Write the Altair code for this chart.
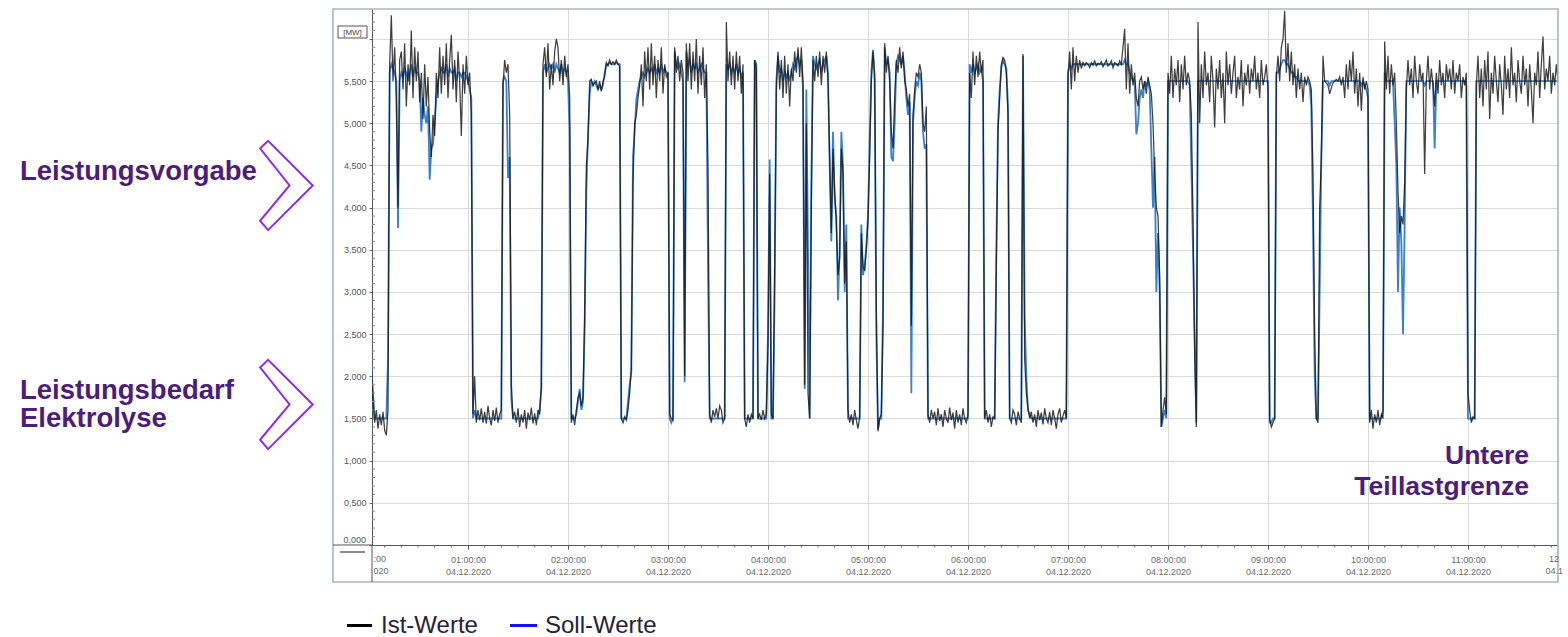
import altair as alt
import pandas as pd

# ---- data: one value per minute from 00:00 (04.12.2020) ----
SOLL = [
    2.1, 2.1, 2.1, 1.8, 1.5, 1.5, 1.5, 1.5, 1.5, 1.5,
    1.5, 1.5, 2.2, 5.6, 5.7, 5.65, 5.6, 5.5, 3.76, 5.5,
    5.6, 5.55, 5.65, 5.6, 5.5, 5.6, 5.7, 5.55, 5.65, 5.6,
    5.6, 5.5, 4.9, 5.3, 5.1, 5.0, 5.2, 4.33, 4.7, 4.75,
    5.0, 5.3, 5.5, 5.6, 5.65, 5.6, 5.6, 5.7, 5.55, 5.65,
    5.6, 5.6, 5.65, 5.5, 5.6, 5.6, 5.55, 5.6, 5.6, 5.55,
    5.5, 5.4, 5.3, 1.5, 1.6, 1.5, 1.5, 1.5, 1.5, 1.5,
    1.5, 1.5, 1.5, 1.5, 1.5, 1.5, 1.5, 1.5, 1.5, 1.5,
    1.5, 5.5, 5.55, 5.5, 4.35, 4.6, 1.74, 1.5, 1.5, 1.5,
    1.5, 1.5, 1.5, 1.5, 1.5, 1.5, 1.5, 1.5, 1.5, 1.5,
    1.5, 1.5, 1.5, 1.6, 1.85, 5.6, 5.7, 5.6, 5.65, 5.7,
    5.65, 5.7, 5.6, 5.7, 5.65, 5.6, 5.7, 5.6, 5.65, 5.6,
    5.5, 4.9, 1.5, 1.5, 1.5, 1.55, 1.7, 1.85, 1.6, 1.7,
    2.6, 4.2, 4.85, 5.35, 5.5, 5.45, 5.5, 5.45, 5.4, 5.45,
    5.4, 5.45, 5.6, 5.7, 5.7, 5.72, 5.7, 5.7, 5.7, 5.72,
    5.7, 5.7, 1.5, 1.5, 1.5, 1.5, 1.7, 1.9, 2.05, 4.6,
    4.9, 5.28, 5.4, 5.5, 5.55, 5.6, 5.55, 5.6, 5.65, 5.6,
    5.65, 5.6, 5.7, 5.6, 5.65, 5.6, 5.7, 5.6, 5.65, 5.6,
    5.6, 1.5, 1.45, 1.5, 5.85, 5.7, 5.65, 5.7, 5.6, 5.5,
    1.93, 5.85, 5.7, 5.75, 5.6, 5.7, 5.65, 5.7, 5.6, 5.65,
    5.7, 5.65, 5.6, 5.6, 3.3, 1.5, 1.5, 1.5, 1.5, 1.5,
    1.5, 1.5, 1.5, 1.5, 1.5, 5.7, 5.65, 5.7, 5.6, 5.65,
    5.6, 5.7, 5.6, 5.65, 5.55, 5.6, 1.5, 1.5, 1.5, 1.5,
    1.5, 1.5, 5.75, 5.7, 1.5, 1.5, 1.5, 1.5, 1.5, 1.5,
    2.5, 4.57, 1.5, 1.5, 3.0, 5.5, 5.8, 5.6, 5.65, 5.5,
    5.6, 5.55, 5.6, 5.5, 5.6, 5.7, 5.65, 5.75, 5.8, 5.7,
    5.75, 5.4, 1.85, 5.4, 3.5, 1.5, 4.3, 5.8, 5.7, 5.65,
    5.7, 5.75, 5.6, 5.7, 5.75, 5.8, 5.6, 4.5, 3.6, 4.9,
    4.1, 3.9, 2.9, 3.5, 4.9, 4.5, 3.0, 3.8, 1.5, 1.5,
    1.5, 1.5, 1.5, 1.5, 1.5, 1.5, 3.8, 3.2, 3.3, 3.55,
    3.9, 4.8, 5.6, 5.87, 5.5, 2.5, 1.37, 1.5, 1.5, 2.8,
    5.9, 5.7, 5.75, 5.6, 4.6, 4.55, 5.0, 5.7, 5.8, 5.75,
    5.7, 5.8, 5.6, 5.3, 5.1, 5.25, 1.8, 5.0, 5.3, 5.5,
    5.45, 5.6, 5.5, 4.9, 4.7, 4.75, 1.5, 1.5, 1.5, 1.5,
    1.5, 1.5, 1.5, 1.5, 1.5, 1.5, 1.5, 1.5, 1.5, 1.5,
    1.5, 1.5, 1.5, 1.5, 1.5, 1.5, 1.5, 1.5, 1.5, 1.5,
    1.5, 5.7, 5.6, 5.7, 5.6, 5.65, 5.7, 5.6, 5.65, 5.5,
    1.5, 1.5, 1.5, 1.5, 1.5, 1.5, 1.5, 3.5, 5.0, 5.4,
    5.66, 5.75, 5.7, 5.65, 5.2, 1.5, 1.5, 1.5, 1.5, 1.5,
    1.5, 1.5, 1.5, 5.8, 2.7, 2.0, 1.6, 1.55, 1.5, 1.5,
    1.5, 1.5, 1.5, 1.5, 1.5, 1.5, 1.5, 1.5, 1.5, 1.5,
    1.5, 1.5, 1.5, 1.5, 1.5, 1.5, 1.5, 1.5, 1.5, 1.5,
    5.6, 5.7, 5.65, 5.7, 5.7, 5.7, 5.7, 5.7, 5.7, 5.7,
    5.7, 5.7, 5.7, 5.7, 5.7, 5.7, 5.7, 5.7, 5.7, 5.7,
    5.7, 5.7, 5.7, 5.7, 5.7, 5.7, 5.7, 5.7, 5.7, 5.7,
    5.7, 5.7, 5.7, 5.7, 5.75, 5.7, 5.7, 5.6, 5.55, 5.5,
    5.5, 4.87, 5.0, 5.3, 5.4, 5.3, 5.5, 5.45, 5.5, 5.4,
    4.7, 4.0, 4.6, 3.0, 3.7, 3.0, 1.4, 1.5, 1.6, 1.5,
    5.5, 5.5, 5.5, 5.5, 5.5, 5.5, 5.5, 5.5, 5.5, 5.5,
    5.5, 5.5, 5.5, 5.45, 4.5, 3.5, 2.4, 1.45, 5.5, 5.5,
    5.5, 5.5, 5.5, 5.5, 5.5, 5.5, 5.5, 5.5, 5.5, 5.5,
    5.5, 5.5, 5.5, 5.5, 5.5, 5.5, 5.5, 5.5, 5.5, 5.5,
    5.5, 5.5, 5.5, 5.5, 5.5, 5.5, 5.5, 5.5, 5.5, 5.5,
    5.5, 5.5, 5.5, 5.5, 5.5, 5.5, 5.5, 5.5, 5.5, 5.5,
    5.5, 1.45, 1.45, 1.5, 1.5, 5.6, 5.6, 5.65, 5.7, 5.75,
    5.75, 5.7, 5.7, 5.65, 5.6, 5.6, 5.55, 5.55, 5.5, 5.5,
    5.5, 5.5, 5.5, 5.5, 5.5, 5.45, 5.2, 3.8, 2.0, 1.5,
    1.5, 3.0, 4.6, 5.5, 5.5, 5.5, 5.5, 5.45, 5.5, 5.5,
    5.5, 5.5, 5.5, 5.5, 5.5, 5.5, 5.5, 5.5, 5.5, 5.5,
    5.5, 5.5, 5.5, 5.5, 5.5, 5.5, 5.45, 5.5, 5.45, 5.4,
    5.3, 1.5, 1.5, 1.5, 1.5, 1.5, 1.5, 1.5, 1.5, 1.6,
    5.6, 5.5, 5.5, 5.5, 5.5, 5.5, 5.0, 4.5, 3.0, 4.0,
    3.6, 2.5, 3.8, 5.5, 5.5, 5.5, 5.5, 5.5, 5.5, 5.5,
    5.5, 5.5, 5.5, 5.5, 5.45, 5.5, 5.5, 5.5, 5.5, 5.5,
    4.7, 5.5, 5.5, 5.5, 5.5, 5.5, 5.5, 5.5, 5.5, 5.5,
    5.5, 5.5, 5.5, 5.5, 5.5, 5.5, 5.5, 5.5, 5.5, 5.45,
    1.5, 1.5, 1.5, 1.5, 1.5, 5.5, 5.5, 5.5, 5.5, 5.5,
    5.5, 5.5, 5.5, 5.5, 5.5, 5.5, 5.5, 5.5, 5.5, 5.5,
    5.5, 5.5, 5.5, 5.5, 5.5, 5.5, 5.5, 5.5, 5.5, 5.5,
    5.5, 5.5, 5.5, 5.5, 5.5, 5.5, 5.5, 5.5, 5.5, 5.5,
    5.5, 5.5, 5.5, 5.5, 5.5, 5.5, 5.5, 5.5, 5.5, 5.5,
    5.5, 5.5, 5.5, 5.5, 5.5,
]

IST = [
    2.1, 2.05, 2.12, 1.7, 1.45, 1.6, 1.38, 1.55, 1.42, 1.58,
    1.36, 1.30, 1.6, 5.7, 6.28, 5.5, 5.9, 5.3, 4.0, 5.75,
    5.85, 5.4, 5.95, 5.2, 5.7, 5.45, 6.1, 5.3, 5.9, 5.5,
    5.85, 5.25, 5.6, 5.05, 5.7, 5.2, 5.55, 4.9, 4.6, 5.1,
    4.85, 5.6, 5.3, 5.9, 5.35, 5.8, 5.45, 5.95, 5.3, 5.75,
    6.05, 5.4, 5.75, 5.25, 5.85, 5.5, 4.85, 5.7, 5.35, 5.8,
    5.45, 5.6, 5.1, 1.55, 2.0, 1.45, 1.6, 1.48, 1.62, 1.45,
    1.58, 1.44, 1.65, 1.5, 1.42, 1.6, 1.47, 1.63, 1.45, 1.55,
    1.6, 5.45, 5.75, 5.6, 5.7, 5.1, 1.9, 1.5, 1.58, 1.45,
    1.62, 1.4, 1.55, 1.45, 1.6, 1.38, 1.57, 1.48, 1.63, 1.44,
    1.56, 1.42, 1.6, 1.55, 1.9, 5.7, 5.9, 5.55, 5.95, 5.4,
    5.7, 5.45, 5.85, 6.0, 5.9, 5.5, 5.75, 5.45, 5.8, 5.55,
    5.7, 5.3, 1.45, 1.55, 1.42, 1.6, 1.75, 1.8, 1.65, 1.75,
    2.7, 4.5, 4.8, 5.5, 5.52, 5.45, 5.48, 5.5, 5.4, 5.5,
    5.38, 5.5, 5.55, 5.72, 5.68, 5.75, 5.7, 5.73, 5.7, 5.75,
    5.7, 5.68, 1.5, 1.45, 1.52, 1.48, 1.6, 1.8, 2.1, 4.3,
    5.0, 5.1, 5.3, 5.45, 5.7, 5.2, 5.85, 5.5, 5.9, 5.4,
    5.95, 5.45, 5.8, 5.3, 5.75, 5.5, 5.9, 5.35, 5.7, 5.55,
    5.6, 1.55, 1.5, 1.48, 5.9, 5.6, 5.8, 5.5, 5.75, 5.6,
    2.0, 5.95, 5.5, 5.95, 5.4, 5.85, 5.5, 6.0, 5.35, 5.8,
    5.45, 5.9, 5.3, 5.7, 4.5, 1.55, 1.45, 1.6, 1.52, 1.62,
    1.5, 1.65, 1.6, 1.45, 1.5, 6.2, 5.5, 5.85, 5.45, 5.8,
    5.4, 5.85, 5.5, 5.8, 5.35, 5.7, 1.5, 1.4, 1.55, 1.45,
    1.55, 1.5, 5.75, 5.65, 1.5, 1.55, 1.48, 1.6, 1.5, 1.56,
    2.4, 4.4, 1.55, 1.5, 3.3, 5.4, 5.85, 5.4, 5.75, 5.3,
    5.8, 5.35, 5.7, 5.2, 5.65, 5.5, 5.85, 5.6, 5.9, 5.55,
    5.9, 5.5, 1.9, 5.0, 1.8, 1.5, 4.0, 5.75, 5.5, 5.8,
    5.55, 5.85, 5.45, 5.8, 5.6, 5.85, 5.5, 4.6, 3.7, 4.7,
    4.2, 3.8, 3.2, 3.4, 4.7, 4.4, 3.1, 3.6, 1.6, 1.45,
    1.55, 1.42, 1.6, 1.48, 1.38, 1.52, 3.7, 3.3, 3.25, 3.5,
    3.85, 4.6, 5.5, 5.85, 5.6, 2.8, 1.35, 1.5, 1.55, 2.6,
    5.95, 5.6, 5.8, 5.5, 4.9, 4.7, 5.3, 5.75, 5.6, 5.9,
    5.65, 5.85, 5.5, 5.4, 5.2, 5.35, 2.6, 5.1, 5.4, 5.6,
    5.55, 5.7, 5.6, 5.0, 4.9, 5.2, 1.55, 1.45, 1.6, 1.5,
    1.58, 1.42, 1.62, 1.47, 1.55, 1.4, 1.6, 1.5, 1.45, 1.63,
    1.48, 1.57, 1.38, 1.6, 1.45, 1.55, 1.42, 1.62, 1.5, 1.45,
    1.55, 5.6, 5.3, 5.85, 5.45, 5.8, 5.55, 5.85, 5.6, 5.75,
    1.5, 1.6, 1.45, 1.55, 1.4, 1.52, 1.5, 3.3, 4.9, 5.3,
    5.7, 5.78, 5.75, 5.6, 5.1, 1.5, 1.45, 1.6, 1.55, 1.42,
    1.58, 1.5, 1.45, 5.82, 2.2, 1.8, 1.62, 1.5, 1.58, 1.45,
    1.55, 1.4, 1.6, 1.48, 1.57, 1.43, 1.62, 1.5, 1.45, 1.58,
    1.42, 1.6, 1.5, 1.38, 1.55, 1.62, 1.45, 1.53, 1.6, 1.5,
    5.55, 5.85, 5.4, 5.9, 5.5, 5.8, 5.6, 5.75, 5.65, 5.72,
    5.68, 5.72, 5.7, 5.66, 5.72, 5.69, 5.74, 5.68, 5.71, 5.7,
    5.73, 5.67, 5.71, 5.75, 5.68, 5.7, 5.74, 5.66, 5.72, 5.7,
    5.68, 5.74, 5.7, 5.9, 6.12, 5.4, 5.95, 5.35, 5.7, 5.45,
    5.6, 5.3, 5.2, 5.5, 5.55, 5.4, 5.5, 5.35, 5.55, 5.45,
    5.35, 5.0, 4.4, 4.0, 3.9, 3.2, 1.4, 1.6, 1.75, 1.55,
    5.6, 5.35, 5.8, 5.3, 5.65, 5.45, 5.75, 5.25, 5.7, 5.4,
    5.8, 5.45, 5.6, 5.5, 5.1, 3.9, 2.3, 1.4, 6.2, 5.0,
    5.7, 5.3, 5.85, 5.45, 5.6, 5.25, 5.8, 5.5, 4.95, 5.65,
    5.4, 5.75, 5.3, 5.6, 5.0, 5.85, 5.45, 5.7, 5.35, 5.6,
    5.8, 5.3, 5.55, 5.4, 5.75, 5.2, 5.6, 5.45, 5.7, 5.35,
    5.65, 5.5, 5.8, 5.4, 5.6, 5.3, 5.75, 5.45, 5.55, 5.7,
    5.4, 1.5, 1.4, 1.45, 1.5, 5.55, 5.8, 5.5, 5.9, 6.0,
    6.33, 5.6, 5.95, 5.5, 5.85, 5.45, 5.7, 5.3, 5.65, 5.4,
    5.6, 5.25, 5.55, 5.45, 5.55, 5.5, 5.4, 4.4, 2.5, 1.5,
    1.45, 4.0, 4.6, 5.8, 5.5, 5.48, 5.45, 5.35, 5.42, 5.48,
    5.5, 5.52, 5.5, 5.55, 5.45, 5.55, 5.3, 5.7, 5.4, 5.75,
    5.5, 5.85, 5.35, 5.65, 5.2, 5.6, 5.15, 5.55, 5.4, 5.5,
    5.4, 1.45, 1.6, 1.38, 1.55, 1.45, 1.6, 1.42, 1.55, 1.5,
    5.97, 5.4, 5.8, 5.35, 5.7, 5.45, 5.6, 5.0, 4.2, 3.7,
    3.9, 3.8, 4.3, 5.4, 5.75, 5.45, 5.65, 5.3, 5.8, 5.5,
    5.35, 5.7, 5.5, 5.6, 4.4, 5.5, 5.8, 5.4, 5.65, 5.45,
    5.2, 5.6, 5.35, 5.75, 5.45, 5.6, 5.3, 5.7, 5.5, 5.65,
    5.4, 5.75, 5.35, 5.6, 5.5, 5.7, 5.3, 5.55, 5.45, 5.6,
    1.8, 1.6, 1.45, 1.52, 1.5, 5.45, 5.8, 5.3, 5.65, 5.2,
    5.75, 5.4, 5.85, 5.05, 5.6, 5.35, 5.8, 5.5, 5.25, 5.7,
    5.45, 5.1, 5.8, 5.4, 5.65, 5.3, 5.9, 5.45, 5.6, 5.25,
    5.75, 5.5, 5.35, 5.8, 5.45, 5.65, 5.2, 5.7, 5.4, 5.0,
    5.6, 5.45, 5.85, 5.3, 5.7, 6.03, 5.4, 5.65, 5.5, 5.8,
    5.35, 5.6, 5.45, 5.7, 5.5,
]

assert len(SOLL) == len(IST), (len(SOLL), len(IST))
MINUTES = list(range(len(SOLL)))

HOUR_TICKS = [60, 120, 180, 240, 300, 360, 420, 480, 540, 600, 660]
DATE_LABEL = "04.12.2020"
Y_TICKS = [0, 0.5, 1, 1.5, 2, 2.5, 3, 3.5, 4, 4.5, 5, 5.5, 6]
MINOR_X = [m for m in range(10, 714, 10) if m % 60 != 0]
MINOR_Y = [round(v / 10, 1) for v in range(1, 64) if v % 5 != 0]
# labels of the first / last hour, cut off by the frame in the original
EDGE_LABELS = [":00", "020", "12", "04.1"]

LEGEND = ["Ist-Werte", "Soll-Werte"]

df = pd.DataFrame({"min": MINUTES, "soll": SOLL, "ist": IST})

W, H = 1186, 536
FONT = "Liberation Sans, Arial, sans-serif"
PURPLE = "#4b1d7c"
VIOLET = "#8f2ce6"
BLUE = "#3a80cc"
ISTC = "#151515"
AXLAB = "#6a6a6a"

xscale = alt.Scale(domain=[2.4, 714], nice=False, zero=False)
yscale = alt.Scale(domain=[0, 6.355], nice=False, zero=False)

xaxis = alt.Axis(
    values=HOUR_TICKS, title=None, grid=True, gridColor="#d9d9d9",
    domainColor="#555555", tickColor="#555555", tickSize=4,
    labelFont=FONT, labelFontSize=9, labelColor=AXLAB, labelPadding=6,
    labelLineHeight=12,
    labelExpr="[(datum.value < 600 ? '0' : '') + (datum.value / 60) + ':00:00', '" + DATE_LABEL + "']",
)
yaxis = alt.Axis(
    values=Y_TICKS, title=None, grid=True, gridColor="#d9d9d9",
    domainColor="#555555", tickColor="#666666", tickSize=3,
    labelFont=FONT, labelFontSize=9, labelColor="#555555", labelPadding=3,
    labelExpr="(datum.value >= 6 || datum.value == 0) ? '' : replace(format(datum.value, '.3f'), '.', ',')",
)

base = alt.Chart(df)
soll_line = base.mark_line(color=BLUE, strokeWidth=1.8, clip=True).encode(
    x=alt.X("min:Q", scale=xscale, axis=xaxis),
    y=alt.Y("soll:Q", scale=yscale, axis=yaxis),
)
ist_line = base.mark_line(color=ISTC, strokeWidth=1.25, opacity=0.82, clip=True).encode(
    x=alt.X("min:Q", scale=xscale, axis=xaxis),
    y=alt.Y("ist:Q", scale=yscale, axis=yaxis),
)

minor_x = alt.Chart(pd.DataFrame({"min": MINOR_X})).mark_rule(color="#666666", strokeWidth=1).encode(
    x=alt.X("min:Q", scale=xscale, axis=xaxis), y=alt.value(H), y2=alt.value(H + 2.5)
)
minor_y = alt.Chart(pd.DataFrame({"soll": MINOR_Y})).mark_rule(color="#888888", strokeWidth=1).encode(
    y=alt.Y("soll:Q", scale=yscale, axis=yaxis), x=alt.value(0), x2=alt.value(3)
)

one = pd.DataFrame({"k": [0]})


def txt(text, x, y, size, color, weight="normal", align="left", baseline="alphabetic"):
    return alt.Chart(one).mark_text(
        text=text, font=FONT, fontSize=size, fontWeight=weight, color=color,
        align=align, baseline=baseline,
    ).encode(x=alt.value(x), y=alt.value(y))


def rule(x1, x2, y1, y2, color, width):
    return alt.Chart(one).mark_rule(color=color, strokeWidth=width).encode(
        x=alt.value(x1), x2=alt.value(x2), y=alt.value(y1), y2=alt.value(y2)
    )


frame = alt.Chart(one).mark_rect(filled=False, color="#a9b5c4", strokeWidth=1.6).encode(
    x=alt.value(-39), x2=alt.value(W), y=alt.value(0), y2=alt.value(573)
)
yaxis_ext = rule(0, 0, H, 573, "#555555", 1)
xaxis_ext = rule(-39, 0, H, H, "#555555", 1)
small_dash = rule(-32, -7, 543, 543, "#666666", 1.5)
zero_label = txt("0,000", -6, H - 5, 9, "#555555", align="right", baseline="middle")

mw_box = alt.Chart(one).mark_rect(color="white", stroke="#555555", strokeWidth=1).encode(
    x=alt.value(-34), x2=alt.value(-5), y=alt.value(17), y2=alt.value(29)
)
mw_text = txt("[MW]", -19.5, 23.5, 8, "#444444", align="center", baseline="middle")

edge_labels = [
    txt(EDGE_LABELS[0], 1.5, H + 10, 9, AXLAB, baseline="top"),
    txt(EDGE_LABELS[1], 1.5, H + 22, 9, AXLAB, baseline="top"),
    txt(EDGE_LABELS[2], 1177, H + 10, 9, AXLAB, baseline="top"),
    txt(EDGE_LABELS[3], 1173.5, H + 22, 9, AXLAB, baseline="top"),
]

CHEV = "M -0.59 -0.83 L -0.41 -1 L 0.59 0 L -0.41 1 L -0.59 0.79 L 0.07 0 Z"


def chevron(x, y):
    return alt.Chart(one).mark_point(
        shape=CHEV, size=7974, filled=False, color=VIOLET, strokeWidth=2, opacity=1
    ).encode(x=alt.value(x), y=alt.value(y))


annotations = [
    txt("Leistungsvorgabe", -352, 171, 27.5, PURPLE, "bold"),
    txt("Leistungsbedarf", -352, 389.5, 27.5, PURPLE, "bold"),
    txt("Elektrolyse", -352, 418, 27.5, PURPLE, "bold"),
    chevron(-85.6, 176.5),
    chevron(-85.6, 395.5),
    txt("Untere", 1157, 454.5, 26.5, PURPLE, "bold", align="right"),
    txt("Teillastgrenze", 1157, 486, 26.5, PURPLE, "bold", align="right"),
    rule(-25, 0, 616.5, 616.5, "#000000", 3),
    txt(LEGEND[0], 9, 624, 24, "#23233a"),
    rule(138, 165, 616.5, 616.5, "#1010ff", 3),
    txt(LEGEND[1], 173, 624, 24, "#23233a"),
]

chart = alt.layer(
    soll_line, ist_line, minor_x, minor_y, frame, yaxis_ext, xaxis_ext, small_dash,
    zero_label, mw_box, mw_text, *edge_labels, *annotations
).properties(
    width=W, height=H,
    autosize=alt.AutoSizeParams(type="none"),
    padding={"left": 372, "top": 9, "right": 10, "bottom": 92},
    background="white",
).configure_view(stroke=None)

chart.save("out.html", embed_options={"renderer": "svg", "actions": False})
